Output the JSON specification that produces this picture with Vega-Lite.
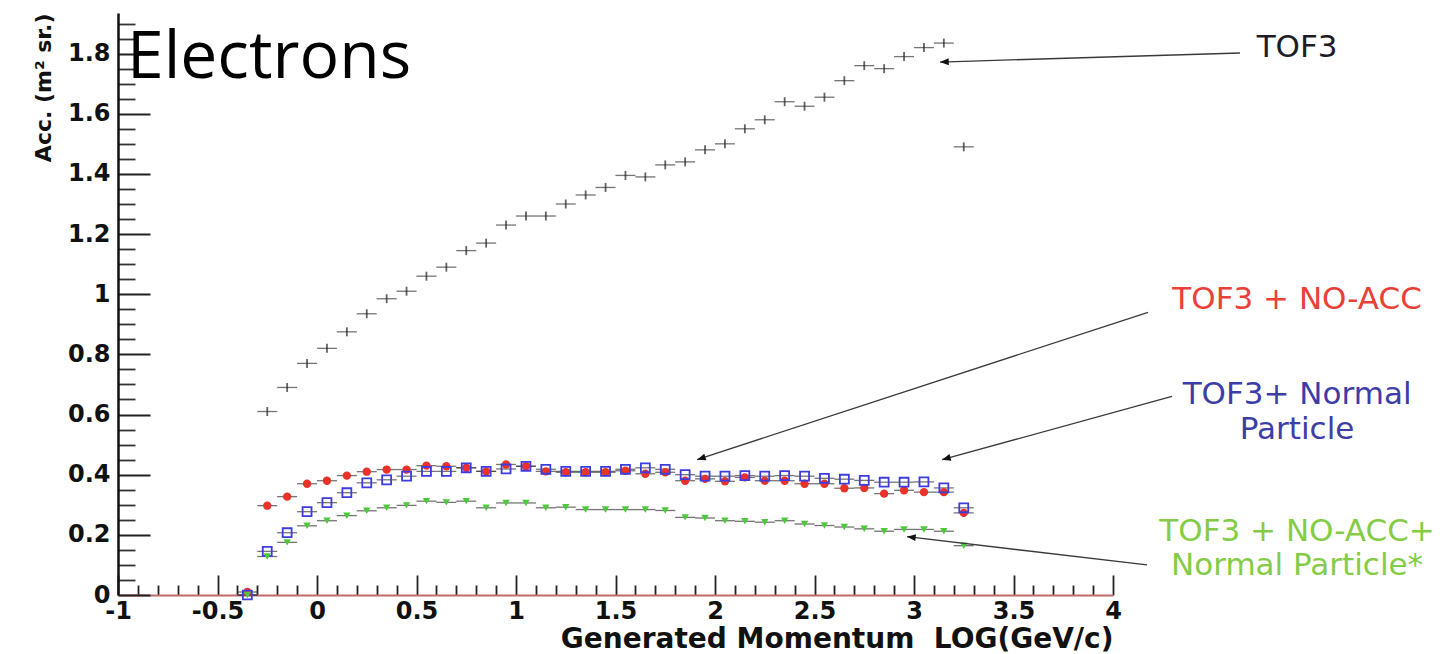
{
  "$schema": "https://vega.github.io/schema/vega-lite/v6.json",
  "width": 995,
  "height": 582,
  "autosize": "none",
  "padding": {"left": 118, "top": 13, "right": 342, "bottom": 59},
  "background": "white",
  "config": {"view": {"stroke": null}},
  "datasets": {
    "acc": [
      {"logp": -0.25, "acc": 0.61, "sel": "TOF3"},
      {"logp": -0.15, "acc": 0.69, "sel": "TOF3"},
      {"logp": -0.05, "acc": 0.77, "sel": "TOF3"},
      {"logp": 0.05, "acc": 0.82, "sel": "TOF3"},
      {"logp": 0.15, "acc": 0.875, "sel": "TOF3"},
      {"logp": 0.25, "acc": 0.935, "sel": "TOF3"},
      {"logp": 0.35, "acc": 0.985, "sel": "TOF3"},
      {"logp": 0.45, "acc": 1.01, "sel": "TOF3"},
      {"logp": 0.55, "acc": 1.06, "sel": "TOF3"},
      {"logp": 0.65, "acc": 1.09, "sel": "TOF3"},
      {"logp": 0.75, "acc": 1.145, "sel": "TOF3"},
      {"logp": 0.85, "acc": 1.17, "sel": "TOF3"},
      {"logp": 0.95, "acc": 1.23, "sel": "TOF3"},
      {"logp": 1.05, "acc": 1.26, "sel": "TOF3"},
      {"logp": 1.15, "acc": 1.26, "sel": "TOF3"},
      {"logp": 1.25, "acc": 1.3, "sel": "TOF3"},
      {"logp": 1.35, "acc": 1.33, "sel": "TOF3"},
      {"logp": 1.45, "acc": 1.355, "sel": "TOF3"},
      {"logp": 1.55, "acc": 1.395, "sel": "TOF3"},
      {"logp": 1.65, "acc": 1.39, "sel": "TOF3"},
      {"logp": 1.75, "acc": 1.43, "sel": "TOF3"},
      {"logp": 1.85, "acc": 1.44, "sel": "TOF3"},
      {"logp": 1.95, "acc": 1.48, "sel": "TOF3"},
      {"logp": 2.05, "acc": 1.5, "sel": "TOF3"},
      {"logp": 2.15, "acc": 1.55, "sel": "TOF3"},
      {"logp": 2.25, "acc": 1.58, "sel": "TOF3"},
      {"logp": 2.35, "acc": 1.64, "sel": "TOF3"},
      {"logp": 2.45, "acc": 1.625, "sel": "TOF3"},
      {"logp": 2.55, "acc": 1.655, "sel": "TOF3"},
      {"logp": 2.65, "acc": 1.71, "sel": "TOF3"},
      {"logp": 2.75, "acc": 1.76, "sel": "TOF3"},
      {"logp": 2.85, "acc": 1.75, "sel": "TOF3"},
      {"logp": 2.95, "acc": 1.79, "sel": "TOF3"},
      {"logp": 3.05, "acc": 1.82, "sel": "TOF3"},
      {"logp": 3.15, "acc": 1.835, "sel": "TOF3"},
      {"logp": 3.25, "acc": 1.49, "sel": "TOF3"},

      {"logp": -0.35, "acc": 0.01, "sel": "TOF3 + NO-ACC"},
      {"logp": -0.25, "acc": 0.297, "sel": "TOF3 + NO-ACC"},
      {"logp": -0.15, "acc": 0.327, "sel": "TOF3 + NO-ACC"},
      {"logp": -0.05, "acc": 0.37, "sel": "TOF3 + NO-ACC"},
      {"logp": 0.05, "acc": 0.38, "sel": "TOF3 + NO-ACC"},
      {"logp": 0.15, "acc": 0.397, "sel": "TOF3 + NO-ACC"},
      {"logp": 0.25, "acc": 0.41, "sel": "TOF3 + NO-ACC"},
      {"logp": 0.35, "acc": 0.417, "sel": "TOF3 + NO-ACC"},
      {"logp": 0.45, "acc": 0.417, "sel": "TOF3 + NO-ACC"},
      {"logp": 0.55, "acc": 0.43, "sel": "TOF3 + NO-ACC"},
      {"logp": 0.65, "acc": 0.428, "sel": "TOF3 + NO-ACC"},
      {"logp": 0.75, "acc": 0.423, "sel": "TOF3 + NO-ACC"},
      {"logp": 0.85, "acc": 0.411, "sel": "TOF3 + NO-ACC"},
      {"logp": 0.95, "acc": 0.434, "sel": "TOF3 + NO-ACC"},
      {"logp": 1.05, "acc": 0.428, "sel": "TOF3 + NO-ACC"},
      {"logp": 1.15, "acc": 0.411, "sel": "TOF3 + NO-ACC"},
      {"logp": 1.25, "acc": 0.408, "sel": "TOF3 + NO-ACC"},
      {"logp": 1.35, "acc": 0.408, "sel": "TOF3 + NO-ACC"},
      {"logp": 1.45, "acc": 0.408, "sel": "TOF3 + NO-ACC"},
      {"logp": 1.55, "acc": 0.413, "sel": "TOF3 + NO-ACC"},
      {"logp": 1.65, "acc": 0.403, "sel": "TOF3 + NO-ACC"},
      {"logp": 1.75, "acc": 0.408, "sel": "TOF3 + NO-ACC"},
      {"logp": 1.85, "acc": 0.38, "sel": "TOF3 + NO-ACC"},
      {"logp": 1.95, "acc": 0.386, "sel": "TOF3 + NO-ACC"},
      {"logp": 2.05, "acc": 0.378, "sel": "TOF3 + NO-ACC"},
      {"logp": 2.15, "acc": 0.391, "sel": "TOF3 + NO-ACC"},
      {"logp": 2.25, "acc": 0.38, "sel": "TOF3 + NO-ACC"},
      {"logp": 2.35, "acc": 0.38, "sel": "TOF3 + NO-ACC"},
      {"logp": 2.45, "acc": 0.37, "sel": "TOF3 + NO-ACC"},
      {"logp": 2.55, "acc": 0.37, "sel": "TOF3 + NO-ACC"},
      {"logp": 2.65, "acc": 0.355, "sel": "TOF3 + NO-ACC"},
      {"logp": 2.75, "acc": 0.356, "sel": "TOF3 + NO-ACC"},
      {"logp": 2.85, "acc": 0.337, "sel": "TOF3 + NO-ACC"},
      {"logp": 2.95, "acc": 0.348, "sel": "TOF3 + NO-ACC"},
      {"logp": 3.05, "acc": 0.342, "sel": "TOF3 + NO-ACC"},
      {"logp": 3.15, "acc": 0.342, "sel": "TOF3 + NO-ACC"},
      {"logp": 3.25, "acc": 0.273, "sel": "TOF3 + NO-ACC"},

      {"logp": -0.35, "acc": 0.0, "sel": "TOF3+ Normal Particle"},
      {"logp": -0.25, "acc": 0.145, "sel": "TOF3+ Normal Particle"},
      {"logp": -0.15, "acc": 0.207, "sel": "TOF3+ Normal Particle"},
      {"logp": -0.05, "acc": 0.277, "sel": "TOF3+ Normal Particle"},
      {"logp": 0.05, "acc": 0.307, "sel": "TOF3+ Normal Particle"},
      {"logp": 0.15, "acc": 0.34, "sel": "TOF3+ Normal Particle"},
      {"logp": 0.25, "acc": 0.373, "sel": "TOF3+ Normal Particle"},
      {"logp": 0.35, "acc": 0.383, "sel": "TOF3+ Normal Particle"},
      {"logp": 0.45, "acc": 0.395, "sel": "TOF3+ Normal Particle"},
      {"logp": 0.55, "acc": 0.411, "sel": "TOF3+ Normal Particle"},
      {"logp": 0.65, "acc": 0.411, "sel": "TOF3+ Normal Particle"},
      {"logp": 0.75, "acc": 0.423, "sel": "TOF3+ Normal Particle"},
      {"logp": 0.85, "acc": 0.411, "sel": "TOF3+ Normal Particle"},
      {"logp": 0.95, "acc": 0.419, "sel": "TOF3+ Normal Particle"},
      {"logp": 1.05, "acc": 0.428, "sel": "TOF3+ Normal Particle"},
      {"logp": 1.15, "acc": 0.418, "sel": "TOF3+ Normal Particle"},
      {"logp": 1.25, "acc": 0.411, "sel": "TOF3+ Normal Particle"},
      {"logp": 1.35, "acc": 0.411, "sel": "TOF3+ Normal Particle"},
      {"logp": 1.45, "acc": 0.411, "sel": "TOF3+ Normal Particle"},
      {"logp": 1.55, "acc": 0.418, "sel": "TOF3+ Normal Particle"},
      {"logp": 1.65, "acc": 0.423, "sel": "TOF3+ Normal Particle"},
      {"logp": 1.75, "acc": 0.418, "sel": "TOF3+ Normal Particle"},
      {"logp": 1.85, "acc": 0.4, "sel": "TOF3+ Normal Particle"},
      {"logp": 1.95, "acc": 0.395, "sel": "TOF3+ Normal Particle"},
      {"logp": 2.05, "acc": 0.395, "sel": "TOF3+ Normal Particle"},
      {"logp": 2.15, "acc": 0.397, "sel": "TOF3+ Normal Particle"},
      {"logp": 2.25, "acc": 0.395, "sel": "TOF3+ Normal Particle"},
      {"logp": 2.35, "acc": 0.397, "sel": "TOF3+ Normal Particle"},
      {"logp": 2.45, "acc": 0.395, "sel": "TOF3+ Normal Particle"},
      {"logp": 2.55, "acc": 0.388, "sel": "TOF3+ Normal Particle"},
      {"logp": 2.65, "acc": 0.385, "sel": "TOF3+ Normal Particle"},
      {"logp": 2.75, "acc": 0.381, "sel": "TOF3+ Normal Particle"},
      {"logp": 2.85, "acc": 0.375, "sel": "TOF3+ Normal Particle"},
      {"logp": 2.95, "acc": 0.375, "sel": "TOF3+ Normal Particle"},
      {"logp": 3.05, "acc": 0.376, "sel": "TOF3+ Normal Particle"},
      {"logp": 3.15, "acc": 0.356, "sel": "TOF3+ Normal Particle"},
      {"logp": 3.25, "acc": 0.29, "sel": "TOF3+ Normal Particle"},

      {"logp": -0.35, "acc": 0.0, "sel": "TOF3 + NO-ACC+ Normal Particle*"},
      {"logp": -0.25, "acc": 0.128, "sel": "TOF3 + NO-ACC+ Normal Particle*"},
      {"logp": -0.15, "acc": 0.175, "sel": "TOF3 + NO-ACC+ Normal Particle*"},
      {"logp": -0.05, "acc": 0.23, "sel": "TOF3 + NO-ACC+ Normal Particle*"},
      {"logp": 0.05, "acc": 0.247, "sel": "TOF3 + NO-ACC+ Normal Particle*"},
      {"logp": 0.15, "acc": 0.264, "sel": "TOF3 + NO-ACC+ Normal Particle*"},
      {"logp": 0.25, "acc": 0.28, "sel": "TOF3 + NO-ACC+ Normal Particle*"},
      {"logp": 0.35, "acc": 0.29, "sel": "TOF3 + NO-ACC+ Normal Particle*"},
      {"logp": 0.45, "acc": 0.298, "sel": "TOF3 + NO-ACC+ Normal Particle*"},
      {"logp": 0.55, "acc": 0.312, "sel": "TOF3 + NO-ACC+ Normal Particle*"},
      {"logp": 0.65, "acc": 0.308, "sel": "TOF3 + NO-ACC+ Normal Particle*"},
      {"logp": 0.75, "acc": 0.312, "sel": "TOF3 + NO-ACC+ Normal Particle*"},
      {"logp": 0.85, "acc": 0.29, "sel": "TOF3 + NO-ACC+ Normal Particle*"},
      {"logp": 0.95, "acc": 0.306, "sel": "TOF3 + NO-ACC+ Normal Particle*"},
      {"logp": 1.05, "acc": 0.306, "sel": "TOF3 + NO-ACC+ Normal Particle*"},
      {"logp": 1.15, "acc": 0.29, "sel": "TOF3 + NO-ACC+ Normal Particle*"},
      {"logp": 1.25, "acc": 0.292, "sel": "TOF3 + NO-ACC+ Normal Particle*"},
      {"logp": 1.35, "acc": 0.284, "sel": "TOF3 + NO-ACC+ Normal Particle*"},
      {"logp": 1.45, "acc": 0.284, "sel": "TOF3 + NO-ACC+ Normal Particle*"},
      {"logp": 1.55, "acc": 0.284, "sel": "TOF3 + NO-ACC+ Normal Particle*"},
      {"logp": 1.65, "acc": 0.284, "sel": "TOF3 + NO-ACC+ Normal Particle*"},
      {"logp": 1.75, "acc": 0.281, "sel": "TOF3 + NO-ACC+ Normal Particle*"},
      {"logp": 1.85, "acc": 0.258, "sel": "TOF3 + NO-ACC+ Normal Particle*"},
      {"logp": 1.95, "acc": 0.256, "sel": "TOF3 + NO-ACC+ Normal Particle*"},
      {"logp": 2.05, "acc": 0.247, "sel": "TOF3 + NO-ACC+ Normal Particle*"},
      {"logp": 2.15, "acc": 0.245, "sel": "TOF3 + NO-ACC+ Normal Particle*"},
      {"logp": 2.25, "acc": 0.242, "sel": "TOF3 + NO-ACC+ Normal Particle*"},
      {"logp": 2.35, "acc": 0.247, "sel": "TOF3 + NO-ACC+ Normal Particle*"},
      {"logp": 2.45, "acc": 0.236, "sel": "TOF3 + NO-ACC+ Normal Particle*"},
      {"logp": 2.55, "acc": 0.231, "sel": "TOF3 + NO-ACC+ Normal Particle*"},
      {"logp": 2.65, "acc": 0.226, "sel": "TOF3 + NO-ACC+ Normal Particle*"},
      {"logp": 2.75, "acc": 0.22, "sel": "TOF3 + NO-ACC+ Normal Particle*"},
      {"logp": 2.85, "acc": 0.212, "sel": "TOF3 + NO-ACC+ Normal Particle*"},
      {"logp": 2.95, "acc": 0.218, "sel": "TOF3 + NO-ACC+ Normal Particle*"},
      {"logp": 3.05, "acc": 0.218, "sel": "TOF3 + NO-ACC+ Normal Particle*"},
      {"logp": 3.15, "acc": 0.212, "sel": "TOF3 + NO-ACC+ Normal Particle*"},
      {"logp": 3.25, "acc": 0.164, "sel": "TOF3 + NO-ACC+ Normal Particle*"}
    ],
    "arrows": [
      {"sel": "TOF3", "x0": 4.638, "y0": 1.802, "x1": 3.131, "y1": 1.772},
      {"sel": "TOF3 + NO-ACC", "x0": 4.176, "y0": 0.94, "x1": 1.91, "y1": 0.45},
      {"sel": "TOF3+ Normal Particle", "x0": 4.296, "y0": 0.66, "x1": 3.141, "y1": 0.45},
      {"sel": "TOF3 + NO-ACC+ Normal Particle*", "x0": 4.171, "y0": 0.1, "x1": 2.965, "y1": 0.194}
    ],
    "labels": [
      {"sel": "TOF3", "line": "TOF3", "lx": 4.925, "ly": 1.819},
      {"sel": "TOF3 + NO-ACC", "line": "TOF3 + NO-ACC", "lx": 4.925, "ly": 0.982},
      {"sel": "TOF3+ Normal Particle", "line": "TOF3+ Normal", "lx": 4.925, "ly": 0.666},
      {"sel": "TOF3+ Normal Particle", "line": "Particle", "lx": 4.925, "ly": 0.55},
      {"sel": "TOF3 + NO-ACC+ Normal Particle*", "line": "TOF3 + NO-ACC+", "lx": 4.925, "ly": 0.208},
      {"sel": "TOF3 + NO-ACC+ Normal Particle*", "line": "Normal Particle*", "lx": 4.925, "ly": 0.095}
    ]
  },
  "resolve": {"axis": {"x": "independent", "y": "independent"}},
  "layer": [
    {
      "data": {"name": "acc"},
      "mark": {"type": "point", "opacity": 0},
      "encoding": {
        "x": {
          "field": "logp", "type": "quantitative",
          "scale": {"domain": [-1, 4], "nice": false, "zero": false},
          "axis": {
            "orient": "bottom", "title": null, "labels": false, "domain": false, "grid": false,
            "values": [-0.9, -0.8, -0.7, -0.6, -0.4, -0.3, -0.2, -0.1, 0.1, 0.2, 0.3, 0.4, 0.6, 0.7, 0.8, 0.9, 1.1, 1.2, 1.3, 1.4, 1.6, 1.7, 1.8, 1.9, 2.1, 2.2, 2.3, 2.4, 2.6, 2.7, 2.8, 2.9, 3.1, 3.2, 3.3, 3.4, 3.6, 3.7, 3.8, 3.9],
            "tickSize": -10, "tickColor": "#222", "tickWidth": 1.8
          }
        },
        "y": {
          "field": "acc", "type": "quantitative",
          "scale": {"domain": [0, 1.935], "nice": false},
          "axis": {
            "orient": "left", "title": null, "labels": false, "domain": false, "grid": false,
            "values": [0.05, 0.1, 0.15, 0.25, 0.3, 0.35, 0.45, 0.5, 0.55, 0.65, 0.7, 0.75, 0.85, 0.9, 0.95, 1.05, 1.1, 1.15, 1.25, 1.3, 1.35, 1.45, 1.5, 1.55, 1.65, 1.7, 1.75, 1.85, 1.9],
            "tickSize": -17, "tickColor": "#333", "tickWidth": 1.8
          }
        }
      }
    },
    {
      "data": {"name": "acc"},
      "mark": {"type": "tick", "orient": "horizontal", "size": 20, "thickness": 1.3, "color": "#3a3a3a"},
      "encoding": {
        "x": {
          "field": "logp", "type": "quantitative",
          "axis": {
            "orient": "bottom",
            "title": "Generated Momentum\u00a0\u00a0LOG(GeV/c)",
            "values": [-1, -0.5, 0, 0.5, 1, 1.5, 2, 2.5, 3, 3.5, 4],
            "labelExpr": "toString(datum.value)",
            "grid": false,
            "tickSize": -20, "tickColor": "#222", "tickWidth": 1.8,
            "domainColor": "#c06a6a", "domainWidth": 2,
            "labelFont": "DejaVu Sans", "labelFontWeight": "bold", "labelFontSize": 24, "labelColor": "#111",
            "labelPadding": 24, "labelFlush": false, "labelOverlap": false,
            "titleFont": "DejaVu Sans", "titleFontWeight": "bold", "titleFontSize": 28, "titleColor": "#111",
            "titleAnchor": "end", "titlePadding": 2
          }
        },
        "y": {
          "field": "acc", "type": "quantitative",
          "axis": {
            "orient": "left",
            "title": "Acc. (m² sr.)",
            "values": [0, 0.2, 0.4, 0.6, 0.8, 1, 1.2, 1.4, 1.6, 1.8],
            "labelExpr": "toString(datum.value)",
            "grid": false,
            "tickSize": -32, "tickColor": "#222", "tickWidth": 1.8,
            "domainColor": "#111", "domainWidth": 2.5,
            "labelFont": "DejaVu Sans", "labelFontWeight": "bold", "labelFontSize": 24, "labelColor": "#111",
            "labelPadding": 40, "labelFlush": false, "labelOverlap": false,
            "titleFont": "DejaVu Sans", "titleFontWeight": "bold", "titleFontSize": 22, "titleColor": "#111",
            "titleAnchor": "end", "titlePadding": 12
          }
        }
      }
    },
    {
      "data": {"name": "acc"},
      "transform": [{"filter": "datum.sel === 'TOF3'"}],
      "mark": {"type": "tick", "orient": "vertical", "size": 9, "thickness": 1.8, "color": "#222"},
      "encoding": {
        "x": {"field": "logp", "type": "quantitative", "axis": null},
        "y": {"field": "acc", "type": "quantitative", "axis": null}
      }
    },
    {
      "data": {"name": "acc"},
      "transform": [{"filter": "datum.sel === 'TOF3 + NO-ACC'"}],
      "mark": {"type": "point", "shape": "circle", "filled": true, "size": 70, "color": "#e8322a", "opacity": 1},
      "encoding": {
        "x": {"field": "logp", "type": "quantitative", "axis": null},
        "y": {"field": "acc", "type": "quantitative", "axis": null}
      }
    },
    {
      "data": {"name": "acc"},
      "transform": [{"filter": "datum.sel === 'TOF3+ Normal Particle'"}],
      "mark": {"type": "point", "shape": "square", "filled": false, "size": 80, "color": "#3c3ce0", "strokeWidth": 1.8, "opacity": 1},
      "encoding": {
        "x": {"field": "logp", "type": "quantitative", "axis": null},
        "y": {"field": "acc", "type": "quantitative", "axis": null}
      }
    },
    {
      "data": {"name": "acc"},
      "transform": [{"filter": "datum.sel === 'TOF3 + NO-ACC+ Normal Particle*'"}],
      "mark": {"type": "point", "shape": "triangle-down", "filled": true, "size": 55, "color": "#4ec83c", "opacity": 1},
      "encoding": {
        "x": {"field": "logp", "type": "quantitative", "axis": null},
        "y": {"field": "acc", "type": "quantitative", "axis": null}
      }
    },
    {
      "mark": {"type": "rule", "color": "#a3a3a3", "strokeWidth": 2.5},
      "encoding": {"y": {"datum": 1.935, "type": "quantitative", "axis": null}}
    },
    {
      "mark": {"type": "rule", "color": "#bb5c5c", "strokeWidth": 2},
      "encoding": {"x": {"datum": 4, "type": "quantitative", "axis": null}}
    },
    {
      "data": {"name": "arrows"},
      "mark": {"type": "rule", "color": "#3a3a3a", "strokeWidth": 1.3},
      "encoding": {
        "x": {"field": "x0", "type": "quantitative", "axis": null},
        "y": {"field": "y0", "type": "quantitative", "axis": null},
        "x2": {"field": "x1"},
        "y2": {"field": "y1"}
      }
    },
    {
      "data": {"name": "arrows"},
      "transform": [{"filter": "datum.sel === 'TOF3'"}],
      "mark": {"type": "point", "shape": "M0,0L0.4,1L-0.4,1Z", "filled": true, "size": 300, "color": "#111", "opacity": 1, "angle": 268.3},
      "encoding": {
        "x": {"field": "x1", "type": "quantitative", "axis": null},
        "y": {"field": "y1", "type": "quantitative", "axis": null}
      }
    },
    {
      "data": {"name": "arrows"},
      "transform": [{"filter": "datum.sel === 'TOF3 + NO-ACC'"}],
      "mark": {"type": "point", "shape": "M0,0L0.4,1L-0.4,1Z", "filled": true, "size": 300, "color": "#111", "opacity": 1, "angle": 252},
      "encoding": {
        "x": {"field": "x1", "type": "quantitative", "axis": null},
        "y": {"field": "y1", "type": "quantitative", "axis": null}
      }
    },
    {
      "data": {"name": "arrows"},
      "transform": [{"filter": "datum.sel === 'TOF3+ Normal Particle'"}],
      "mark": {"type": "point", "shape": "M0,0L0.4,1L-0.4,1Z", "filled": true, "size": 300, "color": "#111", "opacity": 1, "angle": 254.7},
      "encoding": {
        "x": {"field": "x1", "type": "quantitative", "axis": null},
        "y": {"field": "y1", "type": "quantitative", "axis": null}
      }
    },
    {
      "data": {"name": "arrows"},
      "transform": [{"filter": "datum.sel === 'TOF3 + NO-ACC+ Normal Particle*'"}],
      "mark": {"type": "point", "shape": "M0,0L0.4,1L-0.4,1Z", "filled": true, "size": 300, "color": "#111", "opacity": 1, "angle": 276.7},
      "encoding": {
        "x": {"field": "x1", "type": "quantitative", "axis": null},
        "y": {"field": "y1", "type": "quantitative", "axis": null}
      }
    },
    {
      "data": {"name": "labels"},
      "mark": {"type": "text", "font": "DejaVu Sans", "fontSize": 31, "align": "center", "baseline": "middle"},
      "encoding": {
        "x": {"field": "lx", "type": "quantitative", "axis": null},
        "y": {"field": "ly", "type": "quantitative", "axis": null},
        "text": {"field": "line"},
        "color": {
          "field": "sel", "type": "nominal", "legend": null,
          "scale": {
            "domain": ["TOF3", "TOF3 + NO-ACC", "TOF3+ Normal Particle", "TOF3 + NO-ACC+ Normal Particle*"],
            "range": ["#1c1c26", "#ea4038", "#3d3da8", "#84cc46"]
          }
        }
      }
    },
    {
      "data": {"values": [{"name": "Electrons"}]},
      "mark": {"type": "text", "font": "Open Sans", "fontSize": 66, "align": "left", "baseline": "alphabetic", "color": "#000"},
      "encoding": {
        "x": {"datum": -0.955, "type": "quantitative", "axis": null},
        "y": {"datum": 1.719, "type": "quantitative", "axis": null},
        "text": {"field": "name"}
      }
    }
  ]
}
